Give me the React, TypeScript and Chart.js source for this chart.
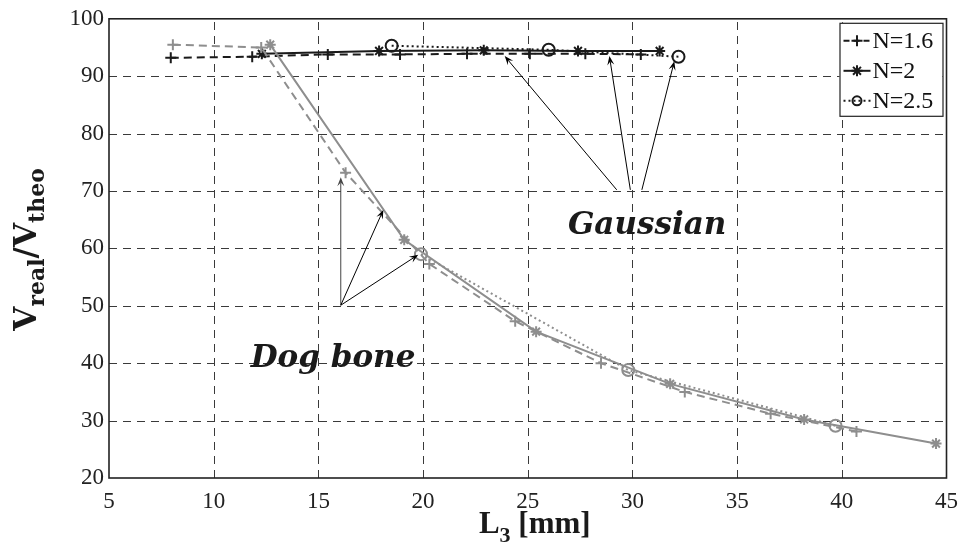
import React, { useEffect, useRef } from 'react';
import { Chart, registerables } from 'chart.js';

Chart.register(...registerables);

// ---- axis ranges / ticks ----
const xMin = 5;
const xMax = 45;
const xStep = 5;
const yMin = 20;
const yMax = 100;
const yStep = 10;

// ---- Gaussian (black) series ----
const gaussN16X = [7.95, 11.84, 15.45, 18.9, 22.1, 25.1, 27.75, 30.4];
const gaussN16Y = [93.2, 93.4, 93.8, 93.8, 93.9, 93.9, 93.9, 93.8];
const gaussN2X = [12.3, 17.9, 22.9, 27.4, 31.3];
const gaussN2Y = [93.9, 94.4, 94.5, 94.4, 94.4];
const gaussN25X = [18.5, 26.0, 32.2];
const gaussN25Y = [95.3, 94.6, 93.4];

// ---- Dog bone (gray) series ----
const dogN16X = [8.05, 12.27, 16.3, 20.3, 24.4, 28.5, 32.5, 36.6, 40.7];
const dogN16Y = [95.5, 95.0, 73.2, 57.3, 47.3, 40.0, 35.0, 31.2, 28.1];
const dogN2X = [12.7, 19.1, 25.4, 31.8, 38.2, 44.5];
const dogN2Y = [95.5, 61.5, 45.5, 36.4, 30.2, 26.0];
const dogN25X = [19.9, 29.8, 39.7];
const dogN25Y = [59.0, 38.8, 29.1];

// ---- legend ----
const legendLabels = ['N=1.6', 'N=2', 'N=2.5'];

// ---- annotations (data coordinates) ----
const dogArrowTail = [16.07, 50.1];
const dogArrowHeads = [
  [16.07, 72.4],
  [18.1, 66.7],
  [19.77, 58.9],
];
const gaussArrowTails = [
  [29.25, 70.2],
  [29.9, 70.2],
  [30.45, 70.2],
];
const gaussArrowHeads = [
  [23.9, 93.5],
  [28.9, 93.5],
  [32.0, 92.6],
];
const dogLabel = { text: 'Dog bone', x: 15.7, y: 40.8 };
const gaussLabel = { text: 'Gaussian', x: 30.7, y: 63.9 };

const BLACK = '#1a1a1a';
const GRAY = '#8e8e8e';

const zip = (xs: number[], ys: number[]) => xs.map((x, i) => ({ x, y: ys[i] }));

function drawMarker(ctx: CanvasRenderingContext2D, style: string, x: number, y: number, r: number, color: string) {
  ctx.save();
  ctx.setLineDash([]);
  ctx.strokeStyle = color;
  ctx.lineWidth = 2;
  ctx.beginPath();
  if (style === 'cross') {
    ctx.moveTo(x - r, y); ctx.lineTo(x + r, y);
    ctx.moveTo(x, y - r); ctx.lineTo(x, y + r);
  } else if (style === 'star') {
    ctx.moveTo(x - r, y); ctx.lineTo(x + r, y);
    ctx.moveTo(x, y - r); ctx.lineTo(x, y + r);
    const d = r * 0.72;
    ctx.moveTo(x - d, y - d); ctx.lineTo(x + d, y + d);
    ctx.moveTo(x - d, y + d); ctx.lineTo(x + d, y - d);
  } else {
    ctx.arc(x, y, r, 0, Math.PI * 2);
  }
  ctx.stroke();
  ctx.restore();
}

function drawArrow(ctx: CanvasRenderingContext2D, x1: number, y1: number, x2: number, y2: number, color: string) {
  const ang = Math.atan2(y2 - y1, x2 - x1);
  const len = 9;
  const hw = 3.5;
  ctx.save();
  ctx.strokeStyle = color;
  ctx.fillStyle = color;
  ctx.lineWidth = 1;
  ctx.setLineDash([]);
  ctx.beginPath();
  ctx.moveTo(x1, y1);
  ctx.lineTo(x2 - Math.cos(ang) * len * 0.6, y2 - Math.sin(ang) * len * 0.6);
  ctx.stroke();
  ctx.beginPath();
  ctx.moveTo(x2, y2);
  ctx.lineTo(x2 - Math.cos(ang) * len - Math.sin(ang) * hw, y2 - Math.sin(ang) * len + Math.cos(ang) * hw);
  ctx.lineTo(x2 - Math.cos(ang) * len * 0.6, y2 - Math.sin(ang) * len * 0.6);
  ctx.lineTo(x2 - Math.cos(ang) * len + Math.sin(ang) * hw, y2 - Math.sin(ang) * len - Math.cos(ang) * hw);
  ctx.closePath();
  ctx.fill();
  ctx.restore();
}

type Part = { text: string; font: string; dy: number };

function drawRich(ctx: CanvasRenderingContext2D, parts: Part[]) {
  let total = 0;
  const widths = parts.map((p) => {
    ctx.font = p.font;
    const w = ctx.measureText(p.text).width;
    total += w;
    return w;
  });
  let x = -total / 2;
  ctx.textBaseline = 'alphabetic';
  ctx.textAlign = 'left';
  parts.forEach((p, i) => {
    ctx.font = p.font;
    ctx.fillText(p.text, x, p.dy);
    x += widths[i];
  });
}

const decorPlugin = {
  id: 'decor',
  beforeDatasetsDraw(chart: any) {
    const { ctx, chartArea: a, scales } = chart;
    const xs = scales.x;
    const ys = scales.y;
    ctx.save();
    ctx.strokeStyle = '#3a3a3a';
    ctx.lineWidth = 1;
    ctx.setLineDash([8, 6]);
    for (let v = xMin + xStep; v < xMax; v += xStep) {
      const px = Math.round(xs.getPixelForValue(v)) + 0.5;
      ctx.beginPath();
      ctx.moveTo(px, a.bottom);
      ctx.lineTo(px, a.top);
      ctx.stroke();
    }
    for (let v = yMin + yStep; v < yMax; v += yStep) {
      const py = Math.round(ys.getPixelForValue(v)) + 0.5;
      ctx.beginPath();
      ctx.moveTo(a.left, py);
      ctx.lineTo(a.right, py);
      ctx.stroke();
    }
    ctx.restore();
  },
  afterDraw(chart: any) {
    const { ctx, chartArea: a, scales } = chart;
    const xs = scales.x;
    const ys = scales.y;
    const P = (pt: number[]) => [xs.getPixelForValue(pt[0]), ys.getPixelForValue(pt[1])];

    // frame
    ctx.save();
    ctx.strokeStyle = '#222';
    ctx.lineWidth = 1.6;
    ctx.setLineDash([]);
    ctx.strokeRect(a.left, a.top, a.right - a.left, a.bottom - a.top);
    ctx.restore();

    // arrows
    const tail = P(dogArrowTail);
    dogArrowHeads.forEach((h, i) => {
      const hp = P(h);
      drawArrow(ctx, tail[0], tail[1], hp[0], hp[1], i === 0 ? '#444' : '#000');
    });
    gaussArrowTails.forEach((t, i) => {
      const tp = P(t);
      const hp = P(gaussArrowHeads[i]);
      drawArrow(ctx, tp[0], tp[1], hp[0], hp[1], '#000');
    });

    // annotation texts
    ctx.save();
    ctx.fillStyle = '#1a1a1a';
    ctx.font = "bold italic 31px 'DejaVu Serif'";
    ctx.textAlign = 'center';
    ctx.textBaseline = 'middle';
    [dogLabel, gaussLabel].forEach((l) => {
      const p = P([l.x, l.y]);
      ctx.fillText(l.text, p[0], p[1]);
    });
    ctx.restore();

    // legend
    const lx = a.right - 107;
    const ly = a.top + 4;
    const lw = 103;
    const lh = 93;
    ctx.save();
    ctx.fillStyle = '#fff';
    ctx.fillRect(lx, ly, lw, lh);
    ctx.strokeStyle = '#222';
    ctx.lineWidth = 1.2;
    ctx.strokeRect(lx + 0.5, ly + 0.5, lw, lh);
    const styles = ['cross', 'star', 'circle'];
    const dashes = [[6, 4], [], [2, 3]];
    legendLabels.forEach((lab, i) => {
      const cy = ly + 18 + i * 30;
      ctx.save();
      ctx.strokeStyle = BLACK;
      ctx.lineWidth = 2;
      ctx.setLineDash(dashes[i]);
      ctx.beginPath();
      ctx.moveTo(lx + 4, cy);
      ctx.lineTo(lx + 31, cy);
      ctx.stroke();
      ctx.restore();
      drawMarker(ctx, styles[i], lx + 17.5, cy, i === 2 ? 4.5 : 5.5, BLACK);
      ctx.fillStyle = '#111';
      ctx.font = "24px 'Liberation Serif'";
      ctx.textAlign = 'left';
      ctx.textBaseline = 'middle';
      ctx.fillText(lab, lx + 33, cy + 1);
    });
    ctx.restore();

    // y axis title
    ctx.save();
    ctx.fillStyle = '#1a1a1a';
    ctx.translate(36, (a.top + a.bottom) / 2 + 1);
    ctx.rotate(-Math.PI / 2);
    const big = "bold 31px 'DejaVu Serif'";
    const sub = "bold 22px 'DejaVu Serif'";
    drawRich(ctx, [
      { text: 'V', font: big, dy: 0 },
      { text: 'real', font: sub, dy: 8 },
      { text: '/V', font: big, dy: 0 },
      { text: 'theo', font: sub, dy: 8 },
    ]);
    ctx.restore();

    // x axis title
    ctx.save();
    ctx.fillStyle = '#1a1a1a';
    ctx.translate((a.left + a.right) / 2 + 7, 533);
    const bigx = "bold 31px 'Liberation Serif'";
    const subx = "bold 22px 'Liberation Serif'";
    drawRich(ctx, [
      { text: 'L', font: bigx, dy: 0 },
      { text: '3', font: subx, dy: 9 },
      { text: ' [mm]', font: bigx, dy: 0 },
    ]);
    ctx.restore();
  },
};

export default function App() {
  const ref = useRef<HTMLCanvasElement | null>(null);
  useEffect(() => {
    document.body.style.margin = '0';
    const canvas = ref.current;
    if (!canvas) return;
    const tickFont = { family: "'Liberation Serif'", size: 23 };
    const mk = (label: string, xs: number[], ys: number[], color: string, dash: number[], style: string, r: number) => ({
      label,
      data: zip(xs, ys),
      showLine: true,
      borderColor: color,
      backgroundColor: 'rgba(0,0,0,0)',
      borderWidth: 2,
      borderDash: dash,
      pointStyle: style,
      pointRadius: r,
      pointBorderColor: color,
      pointBackgroundColor: 'rgba(0,0,0,0)',
      pointBorderWidth: 2,
      tension: 0,
    });
    const chart = new Chart(canvas, {
      type: 'scatter',
      data: {
        datasets: [
          mk('Dog bone N=2.5', dogN25X, dogN25Y, GRAY, [2, 3], 'circle', 6),
          mk('Dog bone N=1.6', dogN16X, dogN16Y, GRAY, [8, 5], 'cross', 5.5),
          mk('Dog bone N=2', dogN2X, dogN2Y, GRAY, [], 'star', 5.5),
          mk('N=2.5', gaussN25X, gaussN25Y, BLACK, [2, 3], 'circle', 6),
          mk('N=1.6', gaussN16X, gaussN16Y, BLACK, [8, 5], 'cross', 5.5),
          mk('N=2', gaussN2X, gaussN2Y, BLACK, [], 'star', 5.5),
        ] as any,
      },
      options: {
        responsive: false,
        animation: false,
        layout: { padding: { top: 16, right: 17, left: 0, bottom: 0 } },
        scales: {
          x: {
            type: 'linear',
            min: xMin,
            max: xMax,
            ticks: { stepSize: xStep, font: tickFont, color: '#222', padding: 10, maxRotation: 0 },
            grid: { display: false, drawTicks: false },
            border: { display: false },
            afterFit: (s: any) => { s.height = 75; },
          },
          y: {
            type: 'linear',
            min: yMin,
            max: yMax,
            ticks: { stepSize: yStep, font: tickFont, color: '#222', padding: 5 },
            grid: { display: false, drawTicks: false },
            border: { display: false },
            afterFit: (s: any) => { s.width = 109; },
          },
        },
        plugins: {
          legend: { display: false },
          tooltip: { enabled: false },
        },
      } as any,
      plugins: [decorPlugin],
    });
    return () => chart.destroy();
  }, []);
  return (
    <div style={{ width: 968, height: 553, background: '#fff' }}>
      <canvas ref={ref} width={968} height={553} style={{ display: 'block' }} />
    </div>
  );
}
